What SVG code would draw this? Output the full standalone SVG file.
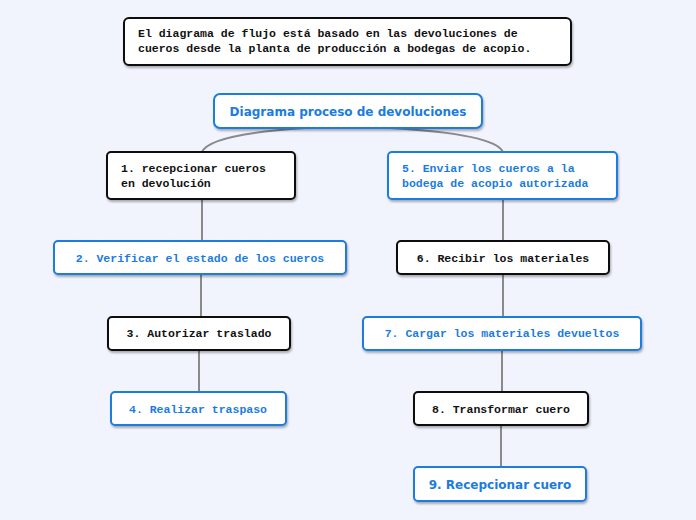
<svg xmlns="http://www.w3.org/2000/svg" width="696" height="520" viewBox="0 0 696 520">
<defs>
<filter id="sh" x="-10%" y="-20%" width="120%" height="150%"><feDropShadow dx="1" dy="2" stdDeviation="1.2" flood-color="#000" flood-opacity="0.3"/></filter>
</defs>
<style>
.bk{fill:#fff;stroke:#111;stroke-width:2;filter:url(#sh)}
.bl{fill:#fff;stroke:#1a7ce0;stroke-width:2;filter:url(#sh)}
.m{font-family:"Liberation Mono",monospace;font-weight:bold;font-size:11.5px}
.s{font-family:"DejaVu Sans","Liberation Sans",sans-serif;font-weight:bold;font-size:12px}
.k{fill:#111}.b{fill:#1a7ce0}
.c{fill:none;stroke:#8a8a8a;stroke-width:2}
</style>
<rect width="696" height="520" fill="#f1f4fd"/>
<g id="connectors">
<path class="c" d="M305 128 Q210 134 202 152"/>
<path class="c" d="M390 128 Q495 134 503 152"/>
<path class="c" d="M202 199 L202 241"/>
<path class="c" d="M201 274 L201 317"/>
<path class="c" d="M199 350 L199 392"/>
<path class="c" d="M503 199 L503 241"/>
<path class="c" d="M503 274 L503 317"/>
<path class="c" d="M502 350 L502 392"/>
<path class="c" d="M501 425 L501 467"/>
</g>
<g id="note"><rect class="bk" x="124" y="18" width="447" height="47" rx="5"/>
<text class="m k" x="138" y="37">El diagrama de flujo está basado en las devoluciones de</text>
<text class="m k" x="138" y="52">cueros desde la planta de producción a bodegas de acopio.</text></g>
<g id="title"><rect class="bl" x="214" y="94" width="268" height="34" rx="6"/>
<text class="s b" x="348" y="116" text-anchor="middle">Diagrama proceso de devoluciones</text></g>
<g id="n1"><rect class="bk" x="107" y="152" width="188" height="47" rx="4"/>
<text class="m k" x="121" y="172">1. recepcionar cueros</text><text class="m k" x="121" y="187">en devolución</text></g>
<g id="n5"><rect class="bl" x="388" y="152" width="229" height="47" rx="4"/>
<text class="m b" x="402" y="172">5. Enviar los cueros a la</text><text class="m b" x="402" y="187">bodega de acopio autorizada</text></g>
<g id="n2"><rect class="bl" x="54" y="241" width="292" height="33" rx="4"/>
<text class="m b" x="200" y="262" text-anchor="middle">2. Verificar el estado de los cueros</text></g>
<g id="n6"><rect class="bk" x="397" y="241" width="212" height="33" rx="4"/>
<text class="m k" x="503" y="262" text-anchor="middle">6. Recibir los materiales</text></g>
<g id="n3"><rect class="bk" x="108" y="317" width="182" height="33" rx="4"/>
<text class="m k" x="199" y="337" text-anchor="middle">3. Autorizar traslado</text></g>
<g id="n7"><rect class="bl" x="363" y="317" width="278" height="33" rx="4"/>
<text class="m b" x="502" y="337" text-anchor="middle">7. Cargar los materiales devueltos</text></g>
<g id="n4"><rect class="bl" x="111" y="392" width="175" height="33" rx="4"/>
<text class="m b" x="198" y="413" text-anchor="middle">4. Realizar traspaso</text></g>
<g id="n8"><rect class="bk" x="414" y="392" width="174" height="33" rx="4"/>
<text class="m k" x="501" y="413" text-anchor="middle">8. Transformar cuero</text></g>
<g id="n9"><rect class="bl" x="414" y="467" width="172" height="34" rx="4"/>
<text class="s b" x="500" y="489" text-anchor="middle">9. Recepcionar cuero</text></g>
</svg>
